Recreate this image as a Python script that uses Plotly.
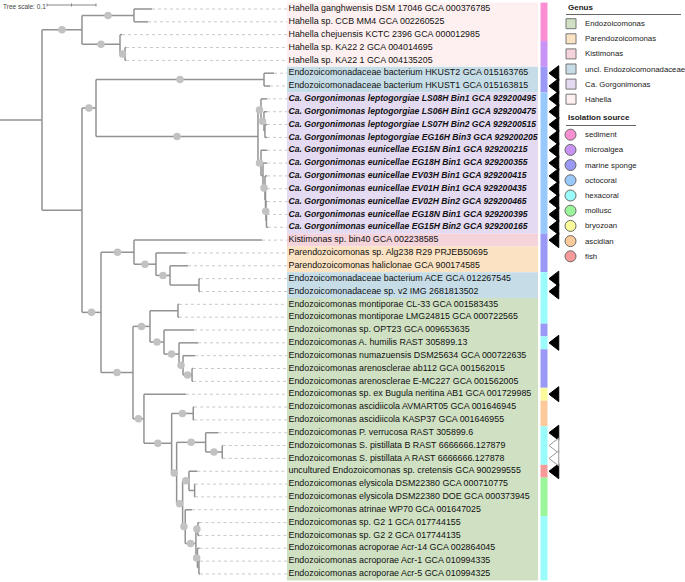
import plotly.graph_objects as go

# ---------------- data ----------------
labels = [
    "Hahella ganghwensis DSM 17046 GCA 000376785",
    "Hahella sp. CCB MM4 GCA 002260525",
    "Hahella chejuensis KCTC 2396 GCA 000012985",
    "Hahella sp. KA22 2 GCA 004014695",
    "Hahella sp. KA22 1 GCA 004135205",
    "Endozoicomonadaceae bacterium HKUST2 GCA 015163765",
    "Endozoicomonadaceae bacterium HKUST1 GCA 015163815",
    "Ca. Gorgonimonas leptogorgiae LS08H Bin1 GCA 929200495",
    "Ca. Gorgonimonas leptogorgiae LS06H Bin1 GCA 929200475",
    "Ca. Gorgonimonas leptogorgiae LS07H Bin2 GCA 929200515",
    "Ca. Gorgonimonas leptogorgiae EG16H Bin3 GCA 929200205",
    "Ca. Gorgonimonas eunicellae EG15N Bin1 GCA 929200215",
    "Ca. Gorgonimonas eunicellae EG18H Bin1 GCA 929200355",
    "Ca. Gorgonimonas eunicellae EV03H Bin1 GCA 929200415",
    "Ca. Gorgonimonas eunicellae EV01H Bin1 GCA 929200435",
    "Ca. Gorgonimonas eunicellae EV02H Bin2 GCA 929200465",
    "Ca. Gorgonimonas eunicellae EG18N Bin1 GCA 929200395",
    "Ca. Gorgonimonas eunicellae EG15H Bin2 GCA 929200165",
    "Kistimonas sp. bin40 GCA 002238585",
    "Parendozoicomonas sp. Alg238 R29 PRJEB50695",
    "Parendozoicomonas haliclonae GCA 900174585",
    "Endozoicomonadaceae bacterium ACE GCA 012267545",
    "Endozoicomonadaceae sp. v2 IMG 2681813502",
    "Endozoicomonas montiporae CL-33 GCA 001583435",
    "Endozoicomonas montiporae LMG24815 GCA 000722565",
    "Endozoicomonas sp. OPT23 GCA 009653635",
    "Endozoicomonas A. humilis RAST 305899.13",
    "Endozoicomonas numazuensis DSM25634 GCA 000722635",
    "Endozoicomonas arenosclerae ab112 GCA 001562015",
    "Endozoicomonas arenosclerae E-MC227 GCA 001562005",
    "Endozoicomonas sp. ex Bugula neritina AB1 GCA 001729985",
    "Endozoicomonas ascidiicola AVMART05 GCA 001646945",
    "Endozoicomonas ascidiicola KASP37 GCA 001646955",
    "Endozoicomonas P. verrucosa RAST 305899.6",
    "Endozoicomonas S. pistillata B RAST 6666666.127879",
    "Endozoicomonas S. pistillata A RAST 6666666.127878",
    "uncultured Endozoicomonas sp. cretensis GCA 900299555",
    "Endozoicomonas elysicola DSM22380 GCA 000710775",
    "Endozoicomonas elysicola DSM22380 DOE GCA 000373945",
    "Endozoicomonas atrinae WP70 GCA 001647025",
    "Endozoicomonas sp. G2 1 GCA 017744155",
    "Endozoicomonas sp. G2 2 GCA 017744135",
    "Endozoicomonas acroporae Acr-14 GCA 002864045",
    "Endozoicomonas acroporae Acr-1 GCA 010994335",
    "Endozoicomonas acroporae Acr-5 GCA 010994325",
]

genus = (["Hahella"] * 5 + ["uncl. Endozoicomonadaceae"] * 2 + ["Ca. Gorgonimonas"] * 11
         + ["Kistimonas"] + ["Parendozoicomonas"] * 2 + ["uncl. Endozoicomonadaceae"] * 2
         + ["Endozoicomonas"] * 22)

source = (["sediment"] * 3 + ["microalgea"] * 2 + ["marine sponge"] * 2 + ["octocoral"] * 11
          + ["marine sponge"] * 3 + ["hexacoral"] * 4 + ["marine sponge"] + ["hexacoral"]
          + ["marine sponge"] * 3 + ["bryozoan"] + ["ascidian"] * 2 + ["hexacoral"] * 3
          + ["fish"] + ["mollusc"] * 3 + ["hexacoral"] * 5)

# MAG marker: 'b' = filled triangle, 'w' = open triangle, '' = none
marker_kind = ([""] * 5 + ["b"] * 14 + [""] * 2 + ["b"] * 2 + [""] * 3 + ["b"] + [""] * 3
               + ["b"] + [""] * 2 + ["b", "w", "w", "b"] + [""] * 8)

genus_names = ["Endozoicomonas", "Parendozoicomonas", "Kistimonas",
               "uncl. Endozoicomonadaceae", "Ca. Gorgonimonas", "Hahella"]
genus_colors = ["#cfe0c3", "#fbe2c2", "#f4d3db", "#c6dde7", "#e4daf1", "#fef0f0"]

source_names = ["sediment", "microalgea", "marine sponge", "octocoral", "hexacoral",
                "mollusc", "bryozoan", "ascidian", "fish"]
source_colors = ["#f98fd2", "#c993f6", "#9a9af6", "#99c9fb", "#9bfbfb",
                 "#9bf59b", "#fbfb9b", "#fbc99a", "#f79a9a"]

# tree in Newick pieces (leaf ids = 1-based index into labels; '*' = supported node)
t_A = "((1:0.0367,2:0.0286)*:0.1061,(3:0.0041,(4:0.0020,5:0.0020)*:0.0102)*:0.0776)*:0.0816"
t_L = "(8:0.0122,(9:0.0061,(10:0.0041,11:0.0041):0.0020)*:0.0061)*:0.0061"
t_E6 = "(17:0.0010,18:0.0031):0.0010"
t_E5 = "(16:0.0020," + t_E6 + ")*:0.0010"
t_E4 = "(15:0.0031," + t_E5 + "):0.0010"
t_E3 = "(14:0.0041," + t_E4 + ")*:0.0041"
t_E2 = "(13:0.0082," + t_E3 + "):0.0041"
t_E = "(12:0.0122," + t_E2 + ")*:0.0061"
t_B12 = "(" + t_L + "," + t_E + ")*:0.3306"
t_B11 = "(6:0.0204,7:0.0122)*:0.3429"
t_B1 = "(" + t_B11 + "," + t_B12 + ")*:0.0286"
t_C3 = "(22:0.0020,23:0.0020):0.0592"
t_C2 = "(21:0.0367," + t_C3 + ")*:0.0286"
t_C1 = "(20:0.0612," + t_C2 + ")*:0.0449"
t_C = "(19:0.2612," + t_C1 + ")*:0.0673"
t_D15 = "(29:0.0020,30:0.0020)*:0.0184"
t_D14 = "(28:0.0245," + t_D15 + ")*:0.0082"
t_D13 = "(27:0.0388," + t_D14 + ")*:0.0306"
t_D12 = "(26:0.0612," + t_D13 + ")*:0.0286"
t_D11 = "(24:0.0020,25:0.0020):0.0571"
t_D1 = "(" + t_D11 + "," + t_D12 + ")*:0.0347"
t_D22 = "(32:0.0020,33:0.0020)*:0.0441"
t_D25 = "(35:0.0010,36:0.0010)*:0.0339"
t_D24 = "(34:0.0257," + t_D25 + ")*:0.0592"
t_D28 = "(38:0.0010,39:0.0010):0.0116"
t_D27 = "(37:0.0169," + t_D28 + ")*:0.0129"
t_N4 = "(44:0.0020,45:0.0020):0.0031"
t_N3 = "(43:0.0041," + t_N4 + ")*:0.0031"
t_N2 = "(41:0.0031,42:0.0031)*:0.0041"
t_N1 = "(" + t_N2 + "," + t_N3 + ")*:0.0218"
t_D29 = "(40:0.0137," + t_N1 + ")*:0.0053"
t_D26 = "(" + t_D27 + "," + t_D29 + ")*:0.0122"
t_D23 = "(" + t_D24 + "," + t_D26 + ")*:0.0102"
t_D21 = "(" + t_D22 + "," + t_D23 + ")*:0.0565"
t_D2 = "(31:0.0857," + t_D21 + ")*:0.0224"
t_D = "(" + t_D1 + "," + t_D2 + ")*:0.0653"
t_B2 = "(" + t_C + "," + t_D + ")*:0.0388"
t_B = "(" + t_B1 + "," + t_B2 + "):0.0816"
newick = "(" + t_A + "," + t_B + "):0.0857"
tree_scale = 0.1

# ---------------- layout constants ----------------
W, H = 685, 582
PX_PER_UNIT = 490.0
ROW0, ROWH = 9.0, 12.84


def ux(px):
    return px / PX_PER_UNIT


def py2row(py):
    return (py - ROW0) / ROWH


def parse(s):
    pos = 0

    def node():
        nonlocal pos
        ch = []
        if s[pos] == '(':
            pos += 1
            ch.append(node())
            while s[pos] == ',':
                pos += 1
                ch.append(node())
            pos += 1
        st = pos
        while pos < len(s) and s[pos] not in ':,);':
            pos += 1
        name = s[st:pos]
        ln = 0.0
        if pos < len(s) and s[pos] == ':':
            pos += 1
            st = pos
            while pos < len(s) and s[pos] not in ',);':
                pos += 1
            ln = float(s[st:pos])
        return {"name": name, "len": ln, "ch": ch}

    return node()


root = parse(newick)

lx, ly, dx, dy, ex, ey = [], [], [], [], [], []
tips = {}


def layout(n, px0):
    n["x"] = px0 + n["len"]
    if n["ch"]:
        for c in n["ch"]:
            layout(c, n["x"])
        n["y"] = (n["ch"][0]["y"] + n["ch"][-1]["y"]) / 2
        lx.extend([n["x"], n["x"], None])
        ly.extend([n["ch"][0]["y"], n["ch"][-1]["y"], None])
    else:
        n["y"] = int(n["name"]) - 1
        tips[n["y"]] = n["x"]
    lx.extend([px0, n["x"], None])
    ly.extend([n["y"], n["y"], None])
    if n["name"] == "*":
        dx.append((px0 + n["x"]) / 2)
        dy.append(n["y"])


layout(root, 0.0)

label_x = ux(287)
for r, tx in tips.items():
    if tx < label_x:
        ex.extend([tx, label_x, None])
        ey.extend([r, r, None])

fig = go.Figure()

shapes = []
gcol = dict(zip(genus_names, genus_colors))
i = 0
while i < len(genus):
    j = i
    while j + 1 < len(genus) and genus[j + 1] == genus[i]:
        j += 1
    shapes.append(dict(type="rect", xref="x", yref="y", x0=ux(287), x1=ux(538),
                       y0=i - 0.5, y1=j + 0.5, fillcolor=gcol[genus[i]], line_width=0,
                       layer="below"))
    i = j + 1
scol = dict(zip(source_names, source_colors))
i = 0
while i < len(source):
    j = i
    while j + 1 < len(source) and source[j + 1] == source[i]:
        j += 1
    shapes.append(dict(type="rect", xref="x", yref="y", x0=ux(540.5), x1=ux(547.5),
                       y0=i - 0.5, y1=j + 0.5, fillcolor=scol[source[i]], line_width=0,
                       layer="below"))
    i = j + 1

# tree scale bar
sx0 = ux(47)
sy = py2row(5)
shapes.append(dict(type="line", xref="x", yref="y", x0=sx0, x1=sx0 + tree_scale, y0=sy, y1=sy,
                   line=dict(color="#888", width=1)))
for t in (0, 0.5, 1):
    shapes.append(dict(type="line", xref="x", yref="y", x0=sx0 + t * tree_scale,
                       x1=sx0 + t * tree_scale, y0=sy - 0.12, y1=sy + 0.12,
                       line=dict(color="#888", width=1)))

fig.add_trace(go.Scatter(x=ex, y=ey, mode="lines", line=dict(color="#c8c8c8", width=1, dash="dot"),
                         hoverinfo="skip"))
fig.add_trace(go.Scatter(x=lx, y=ly, mode="lines", line=dict(color="#929292", width=1.5),
                         hoverinfo="skip"))
fig.add_trace(go.Scatter(x=dx, y=dy, mode="markers",
                         marker=dict(size=7.5, color="#c2c2c2", line_width=0), hoverinfo="skip"))

txt, tsize = [], []
for lab in labels:
    if lab.startswith("Ca. Gorgonimonas"):
        txt.append("<b><i>" + lab + "</i></b>")
        tsize.append(8.6)
    else:
        txt.append(lab)
        tsize.append(8.9)
fig.add_trace(go.Scatter(x=[ux(288.5)] * len(labels), y=list(range(len(labels))), mode="text",
                         text=txt, textposition="middle right",
                         textfont=dict(family="Liberation Sans, Arial", size=tsize, color="#111"),
                         hoverinfo="skip"))

for kind, fill, outline in (("b", "black", "black"), ("w", "white", "#999")):
    rows = [r for r, k in enumerate(marker_kind) if k == kind]
    fig.add_trace(go.Scatter(x=[ux(555.5)] * len(rows), y=rows, mode="markers",
                             marker=dict(symbol="triangle-left", size=13, color=fill,
                                         line=dict(color=outline, width=1)),
                             hoverinfo="skip"))

annotations = [dict(xref="x", yref="y", x=ux(1), y=py2row(6), text="Tree scale: 0.1",
                    showarrow=False, xanchor="left", yanchor="middle",
                    font=dict(family="Liberation Sans, Arial", size=6.5, color="#444"))]


def px(xp):
    return xp / W


def pyp(yp):
    return 1 - yp / H


annotations.append(dict(xref="paper", yref="paper", x=px(566), y=pyp(8), text="<b>Genus</b>",
                        showarrow=False, xanchor="left", yanchor="middle",
                        font=dict(family="Liberation Sans, Arial", size=8, color="#222")))
shapes.append(dict(type="line", xref="paper", yref="paper", x0=px(566), x1=px(681),
                   y0=pyp(14.5), y1=pyp(14.5), line=dict(color="#666", width=1)))
for k, (nm, c) in enumerate(zip(genus_names, genus_colors)):
    yc = 23.7 + 15.1 * k
    shapes.append(dict(type="rect", xref="paper", yref="paper", x0=px(566), x1=px(576),
                       y0=pyp(yc - 5), y1=pyp(yc + 5), fillcolor=c,
                       line=dict(color="#777", width=1)))
    annotations.append(dict(xref="paper", yref="paper", x=px(582.5), y=pyp(yc), text=nm,
                            showarrow=False, xanchor="left", yanchor="middle",
                            font=dict(family="Liberation Sans, Arial", size=7.8, color="#222")))

annotations.append(dict(xref="paper", yref="paper", x=px(566), y=pyp(118), text="<b>Isolation source</b>",
                        showarrow=False, xanchor="left", yanchor="middle",
                        font=dict(family="Liberation Sans, Arial", size=8, color="#222")))
shapes.append(dict(type="line", xref="paper", yref="paper", x0=px(566), x1=px(636),
                   y0=pyp(125.5), y1=pyp(125.5), line=dict(color="#666", width=1)))
for k, (nm, c) in enumerate(zip(source_names, source_colors)):
    yc = 134.7 + 15.2 * k
    shapes.append(dict(type="circle", xref="paper", yref="paper", x0=px(565), x1=px(576),
                       y0=pyp(yc - 5.5), y1=pyp(yc + 5.5), fillcolor=c,
                       line=dict(color="#666", width=1)))
    annotations.append(dict(xref="paper", yref="paper", x=px(582.5), y=pyp(yc), text=nm,
                            showarrow=False, xanchor="left", yanchor="middle",
                            font=dict(family="Liberation Sans, Arial", size=7.8, color="#222")))

fig.update_layout(
    width=W, height=H, margin=dict(l=0, r=0, t=0, b=0),
    paper_bgcolor="white", plot_bgcolor="white", showlegend=False,
    xaxis=dict(range=[0, ux(W)], visible=False, fixedrange=True),
    yaxis=dict(range=[py2row(H), py2row(0)], visible=False, fixedrange=True),
    shapes=shapes, annotations=annotations,
)

fig.write_html("out.html", config={"displayModeBar": False},
               post_script="document.body.style.margin='0px';document.body.style.overflow='hidden';")
